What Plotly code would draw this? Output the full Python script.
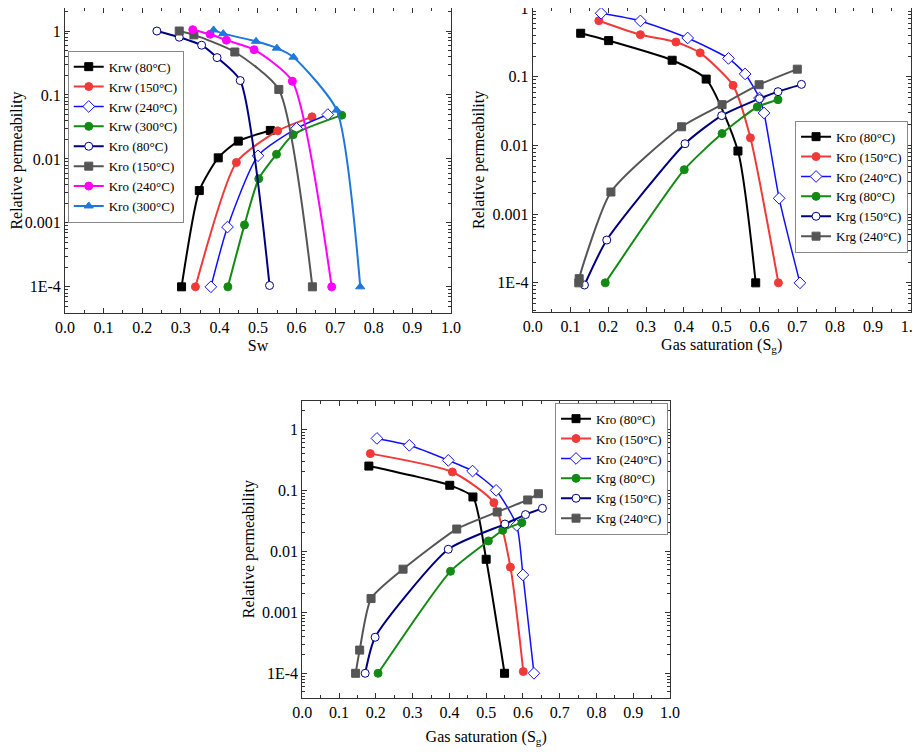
import plotly.graph_objects as go

# ---------------- data ----------------
# panel (a): water / oil relative permeability vs Sw
a_krw80_x = [0.302, 0.348, 0.397, 0.449, 0.532]
a_krw80_y = [1.0e-4, 0.0032, 0.0104, 0.019, 0.0279]
a_krw150_x = [0.338, 0.444, 0.551, 0.640]
a_krw150_y = [1.0e-4, 0.0088, 0.0275, 0.0455]
a_krw240_x = [0.378, 0.421, 0.500, 0.600, 0.681]
a_krw240_y = [1.0e-4, 0.00086, 0.0112, 0.030, 0.0494]
a_krw300_x = [0.422, 0.465, 0.502, 0.548, 0.591, 0.717]
a_krw300_y = [1.0e-4, 0.00093, 0.0049, 0.0118, 0.0239, 0.0483]
a_kro80_x = [0.238, 0.296, 0.354, 0.394, 0.454, 0.530]
a_kro80_y = [1.0, 0.80, 0.60, 0.384, 0.168, 1.05e-4]
a_kro150_x = [0.296, 0.334, 0.440, 0.554, 0.641]
a_kro150_y = [1.0, 0.87, 0.47, 0.122, 1.0e-4]
a_kro240_x = [0.331, 0.376, 0.418, 0.490, 0.589, 0.691]
a_kro240_y = [1.05, 0.89, 0.72, 0.51, 0.164, 1.0e-4]
a_kro300_x = [0.385, 0.410, 0.495, 0.549, 0.592, 0.704, 0.765]
a_kro300_y = [1.04, 0.91, 0.69, 0.54, 0.39, 0.058, 1.0e-4]

# panel (b): oil / gas relative permeability vs Sg
b_kro80_x = [0.127, 0.201, 0.369, 0.459, 0.543, 0.590]
b_kro80_y = [0.43, 0.336, 0.174, 0.0925, 0.0083, 1.0e-4]
b_kro150_x = [0.175, 0.285, 0.379, 0.443, 0.530, 0.576, 0.650]
b_kro150_y = [0.655, 0.41, 0.32, 0.223, 0.075, 0.0129, 1.0e-4]
b_kro240_x = [0.181, 0.285, 0.410, 0.518, 0.562, 0.600, 0.612, 0.652, 0.707]
b_kro240_y = [0.84, 0.65, 0.367, 0.185, 0.11, 0.049, 0.0297, 0.0017, 1.0e-4]
b_krg80_x = [0.192, 0.401, 0.501, 0.594, 0.649]
b_krg80_y = [1.0e-4, 0.00444, 0.0149, 0.0363, 0.0464]
b_krg150_x = [0.137, 0.196, 0.403, 0.500, 0.600, 0.649, 0.711]
b_krg150_y = [9.3e-5, 0.00042, 0.0106, 0.0272, 0.048, 0.0607, 0.0775]
b_krg240_x = [0.122, 0.123, 0.207, 0.394, 0.501, 0.599, 0.700]
b_krg240_y = [1.0e-4, 1.15e-4, 0.0021, 0.0187, 0.0393, 0.0766, 0.129]

# panel (c): oil / gas relative permeability vs Sg
c_kro80_x = [0.181, 0.401, 0.464, 0.500, 0.550]
c_kro80_y = [0.25, 0.121, 0.0778, 0.0074, 1.0e-4]
c_kro150_x = [0.185, 0.408, 0.521, 0.566, 0.601]
c_kro150_y = [0.40, 0.20, 0.0628, 0.0055, 1.07e-4]
c_kro240_x = [0.203, 0.291, 0.397, 0.463, 0.527, 0.583, 0.600, 0.630]
c_kro240_y = [0.71, 0.547, 0.31, 0.207, 0.10, 0.0267, 0.0041, 1.0e-4]
c_krg80_x = [0.206, 0.403, 0.506, 0.545, 0.597]
c_krg80_y = [1.0e-4, 0.0047, 0.0148, 0.0221, 0.0295]
c_krg150_x = [0.171, 0.198, 0.397, 0.551, 0.607, 0.653]
c_krg150_y = [1.0e-4, 0.00039, 0.0108, 0.028, 0.040, 0.0507]
c_krg240_x = [0.145, 0.156, 0.187, 0.274, 0.420, 0.530, 0.613, 0.642]
c_krg240_y = [1.0e-4, 0.00024, 0.00168, 0.0051, 0.0232, 0.0441, 0.0695, 0.088]

x_ticks = [0.0, 0.1, 0.2, 0.3, 0.4, 0.5, 0.6, 0.7, 0.8, 0.9, 1.0]
y_tickvals = [1e-4, 1e-3, 1e-2, 1e-1, 1]
y_ticktext = ["1E-4", "0.001", "0.01", "0.1", "1"]

# colours
BLACK = "#000000"
RED = "#f03a3a"
BLUE = "#1010ff"
GREEN = "#138a13"
NAVY = "#00007f"
GRAY = "#555555"
MAGENTA = "#ff00ff"
SKY = "#1e78dc"

FONT = "Liberation Serif"

fig = go.Figure()


def add(x, y, name, color, symbol, panel, open_marker=False, lw=2):
    xa = "x" if panel == 1 else "x%d" % panel
    ya = "y" if panel == 1 else "y%d" % panel
    lg = "legend" if panel == 1 else "legend%d" % panel
    fig.add_trace(go.Scatter(
        x=x, y=y, name=name, mode="lines+markers",
        line=dict(color=color, width=lw, shape="spline", smoothing=0.6),
        marker=dict(symbol=symbol, size=8 if symbol != "diamond" else 9,
                    color="white" if open_marker else color,
                    line=dict(color=color, width=1)),
        xaxis=xa, yaxis=ya, legend=lg,
    ))


# panel 1
add(a_krw80_x, a_krw80_y, "Krw (80°C)", BLACK, "square", 1)
add(a_krw150_x, a_krw150_y, "Krw (150°C)", RED, "circle", 1)
add(a_krw240_x, a_krw240_y, "Krw (240°C)", BLUE, "diamond", 1, True, 1.5)
add(a_krw300_x, a_krw300_y, "Krw (300°C)", GREEN, "circle", 1)
add(a_kro80_x, a_kro80_y, "Kro (80°C)", NAVY, "circle", 1, True)
add(a_kro150_x, a_kro150_y, "Kro (150°C)", GRAY, "square", 1)
add(a_kro240_x, a_kro240_y, "Kro (240°C)", MAGENTA, "circle", 1)
add(a_kro300_x, a_kro300_y, "Kro (300°C)", SKY, "triangle-up", 1)

# panel 2
add(b_kro80_x, b_kro80_y, "Kro (80°C)", BLACK, "square", 2)
add(b_kro150_x, b_kro150_y, "Kro (150°C)", RED, "circle", 2)
add(b_kro240_x, b_kro240_y, "Kro (240°C)", BLUE, "diamond", 2, True, 1.5)
add(b_krg80_x, b_krg80_y, "Krg (80°C)", GREEN, "circle", 2)
add(b_krg150_x, b_krg150_y, "Krg (150°C)", NAVY, "circle", 2, True)
add(b_krg240_x, b_krg240_y, "Krg (240°C)", GRAY, "square", 2)

# panel 3
add(c_kro80_x, c_kro80_y, "Kro (80°C)", BLACK, "square", 3)
add(c_kro150_x, c_kro150_y, "Kro (150°C)", RED, "circle", 3)
add(c_kro240_x, c_kro240_y, "Kro (240°C)", BLUE, "diamond", 3, True, 1.5)
add(c_krg80_x, c_krg80_y, "Krg (80°C)", GREEN, "circle", 3)
add(c_krg150_x, c_krg150_y, "Krg (150°C)", NAVY, "circle", 3, True)
add(c_krg240_x, c_krg240_y, "Krg (240°C)", GRAY, "square", 3)

minor_log = [m * 10 ** e for e in range(-5, 1) for m in range(2, 10)]

tickfont = dict(family=FONT, size=16, color="black")
titlefont = dict(family=FONT, size=16, color="black")


def xaxis(domain, anchor, title, standoff=4):
    return dict(
        domain=domain, anchor=anchor, range=[0, 1], automargin=False,
        tickvals=x_ticks, tickformat=".1f", ticklabeloverflow="allow",
        title=dict(text=title, font=titlefont, standoff=standoff),
        showline=True, linecolor="#333333", linewidth=1, mirror="ticks",
        ticks="inside", ticklen=5, tickcolor="#333333",
        minor=dict(ticks="inside", ticklen=3, dtick=0.05, tickcolor="#333333"),
        showgrid=False, zeroline=False, tickfont=tickfont,
    )


def yaxis(domain, anchor, rng):
    return dict(
        domain=domain, anchor=anchor, type="log", range=rng, automargin=False,
        tickvals=y_tickvals, ticktext=y_ticktext, ticklabeloverflow="allow",
        title=dict(text="Relative permeability", font=titlefont, standoff=3),
        showline=True, linecolor="#333333", linewidth=1, mirror="ticks",
        ticks="inside", ticklen=5, tickcolor="#333333",
        minor=dict(ticks="inside", ticklen=3, tickvals=minor_log, tickcolor="#333333"),
        showgrid=False, zeroline=False, tickfont=tickfont,
    )


def legend(x, y):
    return dict(
        x=x, y=y, xanchor="left", yanchor="top",
        font=dict(family=FONT, size=13, color="black"),
        bgcolor="white", bordercolor="#888888", borderwidth=1,
        tracegroupgap=0, itemwidth=30,
    )


# page body keeps an 8px margin, so the figure is 8px smaller than the window
fig.update_layout(
    width=912, height=744,
    margin=dict(l=0, r=0, t=0, b=0),
    plot_bgcolor="white", paper_bgcolor="white",
    showlegend=True,
    xaxis=xaxis([0.0625, 0.4857], "y", "Sw"),
    yaxis=yaxis([0.590, 1.0], "x", [-4.41, 0.36]),
    xaxis2=xaxis([0.5753, 0.9898], "y2", "Gas saturation (S<sub>g</sub>)"),
    yaxis2=yaxis([0.5918, 1.0], "x2", [-4.42, 0.001]),
    xaxis3=xaxis([0.3227, 0.7259], "y3", "Gas saturation (S<sub>g</sub>)", 10),
    yaxis3=yaxis([0.0730, 0.4722], "x3", [-4.4, 0.47]),
    legend=legend(0.0655, 0.9426),
    legend2=legend(0.863, 0.8485),
    legend3=legend(0.5998, 0.4695),
)

fig.write_html("out.html")
